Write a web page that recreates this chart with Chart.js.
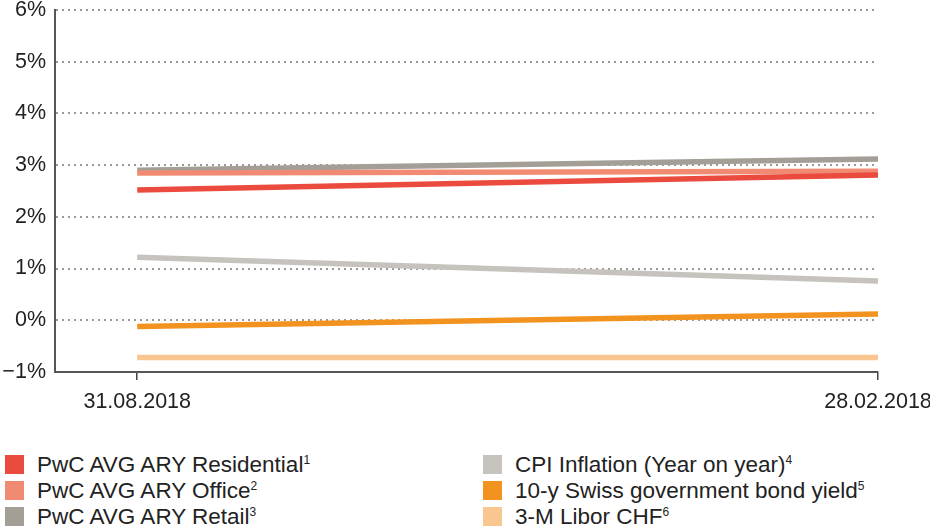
<!DOCTYPE html>
<html>
<head>
<meta charset="utf-8">
<script src="https://cdn.jsdelivr.net/npm/chart.js@4/dist/chart.umd.min.js"></script>
<style>
  html, body { margin: 0; padding: 0; background: #fff; }
  body { width: 930px; height: 532px; position: relative; overflow: hidden;
         font-family: "Liberation Sans", Arial, Helvetica, sans-serif; color: #222; }
  #wrap { position: absolute; left: 0; top: 0; width: 930px; height: 440px; }
  .legend { position: absolute; top: 452px; font-size: 22.5px; line-height: 26px; }
  .legend .item { position: relative; height: 26px; white-space: nowrap; padding-left: 32px; }
  .legend .sw { position: absolute; left: 0; top: 3px; width: 19px; height: 19px; }
  .legend sup { font-size: 12px; vertical-align: 8px; line-height: 0; }
</style>
</head>
<body>
<div id="wrap"><canvas id="c" width="930" height="440"></canvas></div>
<div class="legend" id="leg1" style="left:5px"></div>
<div class="legend" id="leg2" style="left:483px"></div>
<script>
// Two observation dates
const dates = ['31.08.2018', '28.02.2018'];

// Yields / rates in percent at each date
const residential = [2.52, 2.81];
const office      = [2.85, 2.88];
const retail      = [2.90, 3.12];
const cpi         = [1.22, 0.76];
const bond10y     = [-0.12, 0.12];
const libor3m     = [-0.72, -0.72];

const yTicks = [-1, 0, 1, 2, 3, 4, 5, 6];

const series = [
  { label: 'PwC AVG ARY Residential', note: '1', data: residential, color: '#EB4B3F' },
  { label: 'PwC AVG ARY Office',      note: '2', data: office,      color: '#F08A72' },
  { label: 'PwC AVG ARY Retail',      note: '3', data: retail,      color: '#A39F97' },
  { label: 'CPI Inflation (Year on year)', note: '4', data: cpi,    color: '#C6C2BD' },
  { label: '10-y Swiss government bond yield', note: '5', data: bond10y, color: '#F2921F' },
  { label: '3-M Libor CHF',           note: '6', data: libor3m,     color: '#F9C68F' }
];

const datasets = series.map(s => ({
  label: s.label,
  data: s.data.map((v, i) => ({ x: i, y: v })),
  borderColor: s.color,
  backgroundColor: s.color,
  borderWidth: 5.5,
  borderCapStyle: 'butt',
  pointRadius: 0,
  fill: false,
  tension: 0
}));

const font = { family: '"Liberation Sans", Arial, Helvetica, sans-serif', size: 21.5 };

new Chart(document.getElementById('c'), {
  type: 'line',
  data: { datasets },
  options: {
    responsive: false,
    animation: false,
    layout: { padding: { top: 10, right: 52, left: 0, bottom: 0 } },
    plugins: { legend: { display: false }, tooltip: { enabled: false } },
    scales: {
      x: {
        type: 'linear',
        min: -0.111,
        max: 1,
        afterBuildTicks: ax => { ax.ticks = dates.map((d, i) => ({ value: i })); },
        afterFit: ax => { ax.height = 68; ax.paddingLeft = 0; ax.paddingRight = 0; },
        ticks: {
          callback: v => dates[v] ?? '',
          font, color: '#222', padding: 9, maxRotation: 0, autoSkip: false
        },
        grid: { drawOnChartArea: false, drawTicks: true, tickLength: 8, color: '#444', lineWidth: 1.5 },
        border: { color: '#555', width: 2 }
      },
      y: {
        min: -1,
        max: 6,
        afterBuildTicks: ax => { ax.ticks = yTicks.map(v => ({ value: v })); },
        afterFit: ax => { ax.width = 55; ax.paddingTop = 0; ax.paddingBottom = 0; },
        ticks: {
          callback: v => (v < 0 ? '\u2212' + Math.abs(v) : v) + '%',
          font, color: '#222', padding: 9
        },
        grid: { drawTicks: false, color: '#999', lineWidth: 2, borderDash: [2, 4] },
        border: { color: '#555', width: 2, dash: [2, 4] }
      }
    }
  }
});

// Legend with footnote numbers
series.forEach((s, i) => {
  const item = document.createElement('div');
  item.className = 'item';
  item.innerHTML = '<span class="sw" style="background:' + s.color + '"></span>' +
    s.label + '<sup>' + s.note + '</sup>';
  document.getElementById(i < 3 ? 'leg1' : 'leg2').appendChild(item);
});
</script>
</body>
</html>
